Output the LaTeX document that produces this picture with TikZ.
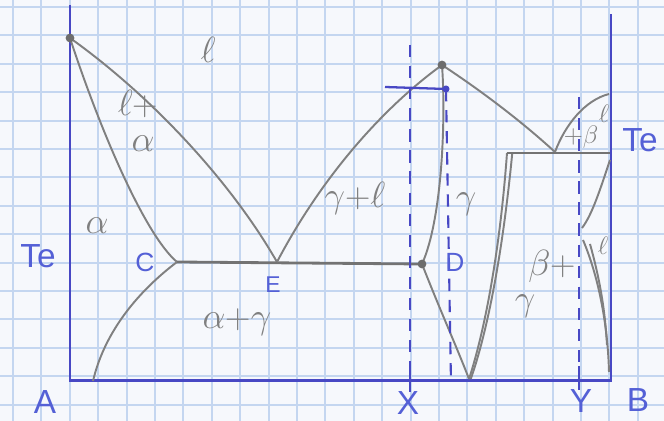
\documentclass[tikz,border=0pt]{standalone}
\usepackage{fontspec}
\setsansfont{Liberation Sans}
\definecolor{paper}{RGB}{246,248,252}
\definecolor{gridc}{RGB}{196,214,240}
\definecolor{ink}{RGB}{72,72,196}
\definecolor{lab}{RGB}{84,96,214}
\definecolor{pencil}{RGB}{128,128,128}
\tikzset{
  gridline/.style={draw=gridc, line width=1.1pt},
  axis/.style={draw=ink, line width=1.7pt},
  pen/.style={draw=pencil, line width=1.1pt},
  thickpen/.style={draw=pencil!90!black, line width=1.6pt},
  guide/.style={draw=ink, line width=1.2pt, dash pattern=on 7pt off 5pt},
  bluelab/.style={text=lab, font=\sffamily\fontsize{19}{21}\selectfont, inner sep=0pt},
  graylab/.style={text=pencil, font=\fontsize{20}{22}\selectfont, inner sep=0pt},
  smallgray/.style={text=pencil, font=\fontsize{15}{17}\selectfont, inner sep=0pt},
  pdot/.style={circle, fill=pencil!85!black, inner sep=0pt, minimum size=5pt}
}
\begin{document}
\begin{tikzpicture}[x=0.02cm, y=-0.02cm]
\useasboundingbox (0,0) rectangle (664,421);
\fill[paper] (0,0) rectangle (664,421);
% grid paper
\foreach \i in {0,...,23} \draw[gridline] ({13+28.4*\i},0) -- ({13+28.4*\i},421);
\foreach \j in {0,...,14} \draw[gridline] (0,{7+28.4*\j}) -- (664,{7+28.4*\j});

% key points
\coordinate (topL) at (70,5);
\coordinate (O) at (70,381);
\coordinate (Bc) at (611,381);
\coordinate (topR) at (611,14);
\coordinate (mA) at (70,38);
\coordinate (C) at (177,262);
\coordinate (E) at (277,262);
\coordinate (D) at (422,264);
\coordinate (M) at (442,65);
\coordinate (R) at (507,153);
\coordinate (F) at (555,152);
\coordinate (Rt) at (610,153);
\coordinate (mB) at (609,94);
\coordinate (bL) at (93,381);
\coordinate (gB) at (469,379);
\coordinate (sb1) at (610,160);
\coordinate (sb2) at (582,228);
\coordinate (sc1) at (583,240);
\coordinate (sc2) at (609,372);
\coordinate (sd1) at (590,244);
\coordinate (sd2) at (607,345);

% axes
\draw[axis] (topL) -- (O) -- (Bc) -- (topR);

% pencil curves
\draw[pen] (mA) .. controls (150,95) and (230,180) .. (E);
\draw[pen] (mA) .. controls (100,130) and (145,235) .. (C);
\draw[pen] (C) .. controls (140,290) and (105,330) .. (bL);
\draw[thickpen] (C) -- (D);
\draw[pen] (E) .. controls (320,180) and (380,110) .. (M);
\draw[pen] (M) .. controls (446,120) and (442,220) .. (D);
\draw[pen] (D) .. controls (440,310) and (458,350) .. (gB);
\draw[pen] (R) .. controls (500,250) and (485,330) .. (gB);
\draw[pen] ([xshift=3]R) .. controls (503,250) and (488,330) .. ([xshift=1]gB);
\draw[pen] (M) .. controls (480,90) and (520,120) .. (F);
\draw[thickpen] (R) -- (Rt);
\draw[pen] (F) .. controls (565,125) and (585,100) .. (mB);
\draw[pen] (sb1) .. controls (600,190) and (592,215) .. (sb2);
\draw[pen] (sc1) .. controls (600,280) and (608,330) .. (sc2);
\draw[pen] (sd1) .. controls (600,280) and (605,310) .. (sd2);

% dots
\node[pdot] (dA) at (mA) {};
\node[pdot] (dM) at (M) {};
\node[pdot] (dD) at (D) {};

% blue guides
\coordinate (xT) at (410,45);
\coordinate (xB) at (410,392);
\coordinate (xk) at (410,366);
\draw[guide] (xT) -- (xB);
\draw[axis] (xk) -- (xB);
\coordinate (hL) at (385,87);
\coordinate (hR) at (446,89);
\coordinate (hB) at (451,383);
\draw[axis, line width=1.3pt] (hL) -- (hR);
\node[circle, fill=ink, inner sep=0pt, minimum size=4pt] (dH) at (hR) {};
\draw[guide] (hR) -- (hB);
\coordinate (yT) at (579,97);
\coordinate (yB) at (579,390);
\coordinate (yk) at (579,366);
\draw[guide] (yT) -- (yB);
\draw[axis] (yk) -- (yB);

% blue labels
\node[bluelab] (teL) at (38,256) {Te};
\node[bluelab] (teR) at (640,140) {Te};
\node[bluelab] (lA) at (45,402) {A};
\node[bluelab] (lB) at (638,400) {B};
\node[bluelab] (lX) at (408,403) {X};
\node[bluelab] (lY) at (581,401) {Y};
\node[bluelab, font=\sffamily\fontsize{15}{17}\selectfont] (lC) at (145,262) {C};
\node[bluelab, font=\sffamily\fontsize{13}{15}\selectfont] (lE) at (273,285) {E};
\node[bluelab, font=\sffamily\fontsize{15}{17}\selectfont] (lD) at (455,262) {D};

% pencil labels
\node[graylab] (tl) at (208,50) {$\ell$};
\node[graylab] (tla) at (138,104) {$\ell$+};
\node[graylab] (tla2) at (143,144) {$\alpha$};
\node[graylab] (ta) at (97,226) {$\alpha$};
\node[graylab] (tag) at (237,322) {$\alpha$+$\gamma$};
\node[graylab] (tgl) at (355,198) {$\gamma$+$\ell$};
\node[graylab] (tg) at (466,204) {$\gamma$};
\node[smallgray] (tpb) at (581,137) {+$\beta$};
\node[smallgray] (tl2) at (604,114) {$\ell$};
\node[graylab] (tbp) at (552,266) {$\beta$+};
\node[graylab] (tg2) at (525,306) {$\gamma$};
\node[smallgray] (tl3) at (603,246) {$\ell$};
\end{tikzpicture}
\end{document}
